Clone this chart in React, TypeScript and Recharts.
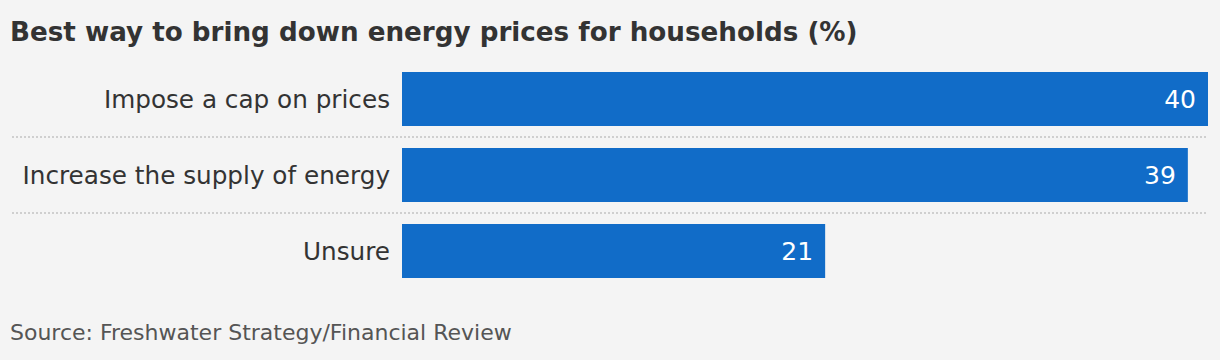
import { BarChart, Bar, XAxis, YAxis, LabelList } from "recharts";

const answers = [
  "Impose a cap on prices",
  "Increase the supply of energy",
  "Unsure",
];
const shares = [40, 39, 21];

const data = answers.map((answer, i) => ({ answer, share: shares[i] }));

const FONT = "'DejaVu Sans', sans-serif";

// category label plus the dotted rule under each row (except the last)
function RowTick(props: any) {
  const { x, y, payload, index, visibleTicksCount } = props;
  const half = payload && payload.offset ? payload.offset : 38;
  return (
    <g>
      <text
        x={x}
        y={y}
        dy="0.36em"
        textAnchor="end"
        fill="#333"
        fontSize={24.7}
        fontFamily={FONT}
      >
        {payload.value}
      </text>
      {index < visibleTicksCount - 1 && (
        <line
          x1={12}
          x2={1208}
          y1={y + half}
          y2={y + half}
          stroke="#cfcfcf"
          strokeWidth={2}
          strokeDasharray="2 2"
        />
      )}
    </g>
  );
}

export default function App() {
  return (
    <div
      style={{
        position: "absolute",
        left: 0,
        top: 0,
        width: 1220,
        height: 360,
        background: "#f4f4f4",
        fontFamily: FONT,
      }}
    >
      <div
        style={{
          position: "absolute",
          left: 10,
          top: 17,
          fontSize: 26.2,
          fontWeight: 700,
          color: "#333",
          whiteSpace: "nowrap",
        }}
      >
        Best way to bring down energy prices for households (%)
      </div>

      <div style={{ position: "absolute", left: 0, top: 0 }}>
        <BarChart
          width={1220}
          height={360}
          data={data}
          layout="vertical"
          margin={{ top: 61, right: 12, bottom: 71, left: 0 }}
          barCategoryGap={11}
        >
          <XAxis type="number" domain={[0, 40]} hide />
          <YAxis
            type="category"
            dataKey="answer"
            width={402}
            axisLine={false}
            tickLine={false}
            tickSize={0}
            tickMargin={12}
            tick={<RowTick />}
            interval={0}
          />
          <Bar dataKey="share" fill="#116cc8" isAnimationActive={false}>
            <LabelList
              dataKey="share"
              position="insideRight"
              offset={12}
              fill="#fff"
              fontSize={25}
              fontFamily={FONT}
            />
          </Bar>
        </BarChart>
      </div>

      <div
        style={{
          position: "absolute",
          left: 10,
          top: 320,
          fontSize: 22,
          color: "#555",
          whiteSpace: "nowrap",
        }}
      >
        Source: Freshwater Strategy/Financial Review
      </div>
    </div>
  );
}
